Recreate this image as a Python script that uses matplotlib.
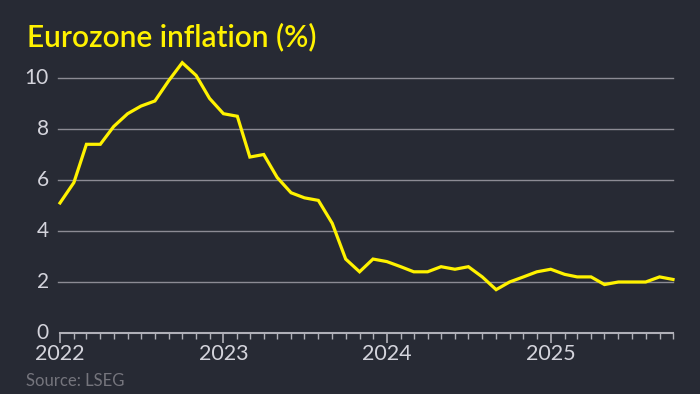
import matplotlib
matplotlib.use("Agg")
import matplotlib.pyplot as plt
import matplotlib.dates as mdates
import pandas as pd

dates = pd.date_range("2022-01-01", "2025-10-01", freq="MS")
inflation = [
    5.1, 5.9, 7.4, 7.4, 8.1, 8.6, 8.9, 9.1, 9.9, 10.6, 10.1, 9.2,
    8.6, 8.5, 6.9, 7.0, 6.1, 5.5, 5.3, 5.2, 4.3, 2.9, 2.4, 2.9,
    2.8, 2.6, 2.4, 2.4, 2.6, 2.5, 2.6, 2.2, 1.7, 2.0, 2.2, 2.4,
    2.5, 2.3, 2.2, 2.2, 1.9, 2.0, 2.0, 2.0, 2.2, 2.1,
]
yticks = [0, 2, 4, 6, 8, 10]
title = "Eurozone inflation (%)"
source = "Source: LSEG"

BG = "#272a34"
YELLOW = "#fff200"
GRID = "#8c8b94"
TICKTXT = "#d4d4dc"

plt.rcParams['font.family'] = ['Lato', 'DejaVu Sans']

fig = plt.figure(figsize=(7, 3.94), dpi=100, facecolor=BG)
ax = fig.add_axes([60/700, 1-333/394, 613/700, (333-52.5)/394])
ax.set_facecolor(BG)

ax.plot(dates, inflation, color=YELLOW, lw=2.3, solid_joinstyle="miter", zorder=3, clip_on=False)

ax.set_xlim(dates[0], dates[-1])
ax.set_ylim(0, 11)
ax.set_yticks(yticks)
ax.set_yticklabels([str(t) for t in yticks])
for t in yticks[1:]:
    ax.axhline(t, xmin=-2/613, color=GRID, lw=1.0, zorder=1, clip_on=False)

for s in ["top", "right", "left"]:
    ax.spines[s].set_visible(False)
ax.spines["bottom"].set_color("#b0b0b8")
ax.spines["bottom"].set_linewidth(1.5)

ax.xaxis.set_major_locator(mdates.YearLocator())
ax.xaxis.set_major_formatter(mdates.DateFormatter("%Y"))
ax.xaxis.set_minor_locator(mdates.MonthLocator())
ax.tick_params(axis="x", which="major", length=7, width=1.2, color="#b0b0b8",
               labelsize=15.5, labelcolor=TICKTXT, pad=1)
ax.tick_params(axis="x", which="minor", length=4, width=1.0, color="#b0b0b8")
ax.tick_params(axis="y", length=0, labelsize=15, labelcolor=TICKTXT, pad=8)
for lab in ax.get_yticklabels():
    lab.set_verticalalignment("center")

fig.text(27/700, 1-46/394, title, color=YELLOW, fontsize=21.5, fontweight="semibold",
         ha="left", va="baseline")
fig.text(26/700, 1-386/394, source, color="#75757d", fontsize=12,
         ha="left", va="baseline")

fig.savefig("out.png", dpi=100, facecolor=BG)
